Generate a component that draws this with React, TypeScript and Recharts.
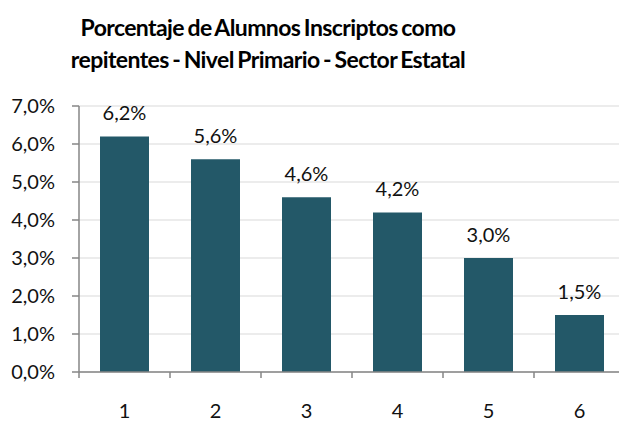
import React from "react";
import { BarChart, Bar, XAxis, YAxis, CartesianGrid, LabelList } from "recharts";

const categories = ["1", "2", "3", "4", "5", "6"];
const values = [6.2, 5.6, 4.6, 4.2, 3.0, 1.5];
const yTicks = [0, 1, 2, 3, 4, 5, 6, 7];
const titleLines = [
  "Porcentaje de Alumnos Inscriptos como",
  "repitentes - Nivel Primario - Sector Estatal",
];

const data = categories.map((c, i) => ({ name: c, value: values[i] }));

const CHART_W = 630;
const Y_W = 79;
const RIGHT = 5;
const CAT_W = (CHART_W - Y_W - RIGHT) / categories.length;
const FONT = "Lato, 'Open Sans', sans-serif";
const AXIS_COLOR = "#868686";
const TEXT_COLOR = "#111";

const fmt = (v: number) => v.toFixed(1).replace(".", ",") + "%";

const XTick = (props: any) => {
  const { x, y, payload, index } = props;
  const left = x - CAT_W / 2;
  const right = x + CAT_W / 2;
  return (
    <g>
      <line x1={left} x2={left} y1={y} y2={y + 6} stroke={AXIS_COLOR} strokeWidth={1.5} />
      {index === categories.length - 1 && (
        <line x1={right} x2={right} y1={y} y2={y + 6} stroke={AXIS_COLOR} strokeWidth={1.5} />
      )}
      <text x={x} y={y + 46} textAnchor="middle" fontSize={20} fontFamily={FONT} fill={TEXT_COLOR}>
        {payload.value}
      </text>
    </g>
  );
};

export default function App() {
  return (
    <div
      style={{
        position: "absolute",
        left: 0,
        top: 0,
        width: 619,
        height: 421,
        overflow: "hidden",
        background: "#fff",
      }}
    >
      {titleLines.map((t, i) => (
        <div
          key={i}
          style={{
            position: "absolute",
            left: 268 - 300,
            width: 600,
            top: 12 + i * 32,
            textAlign: "center",
            fontFamily: FONT,
            fontWeight: 700,
            fontSize: 23,
            letterSpacing: "-0.6px",
            wordSpacing: "-1.5px",
            lineHeight: "30px",
            color: "#000",
            whiteSpace: "nowrap",
          }}
        >
          {t}
        </div>
      ))}
      <div style={{ position: "absolute", left: 0, top: 0 }}>
        <BarChart
          width={CHART_W}
          height={421}
          data={data}
          margin={{ top: 106, right: RIGHT, bottom: 0, left: 0 }}
        >
          <CartesianGrid vertical={false} stroke="#d9d9d9" strokeWidth={1} />
          <XAxis
            dataKey="name"
            height={49}
            tickLine={false}
            tickSize={0}
            tickMargin={0}
            axisLine={{ stroke: AXIS_COLOR, strokeWidth: 1.5 }}
            tick={<XTick />}
            interval={0}
          />
          <YAxis
            width={Y_W}
            domain={[0, 7]}
            ticks={yTicks}
            interval={0}
            tickFormatter={fmt}
            tickSize={7}
            tickMargin={17}
            tickLine={{ stroke: AXIS_COLOR, strokeWidth: 1.5 }}
            axisLine={{ stroke: AXIS_COLOR, strokeWidth: 1.5 }}
            tick={{ fontSize: 20, fontFamily: FONT, fill: TEXT_COLOR }}
          />
          <Bar dataKey="value" fill="#235868" barSize={49} isAnimationActive={false}>
            <LabelList
              dataKey="value"
              position="top"
              offset={16}
              formatter={(v: any) => fmt(Number(v))}
              style={{ fontSize: 20, fontFamily: FONT, fill: TEXT_COLOR }}
            />
          </Bar>
        </BarChart>
      </div>
    </div>
  );
}
